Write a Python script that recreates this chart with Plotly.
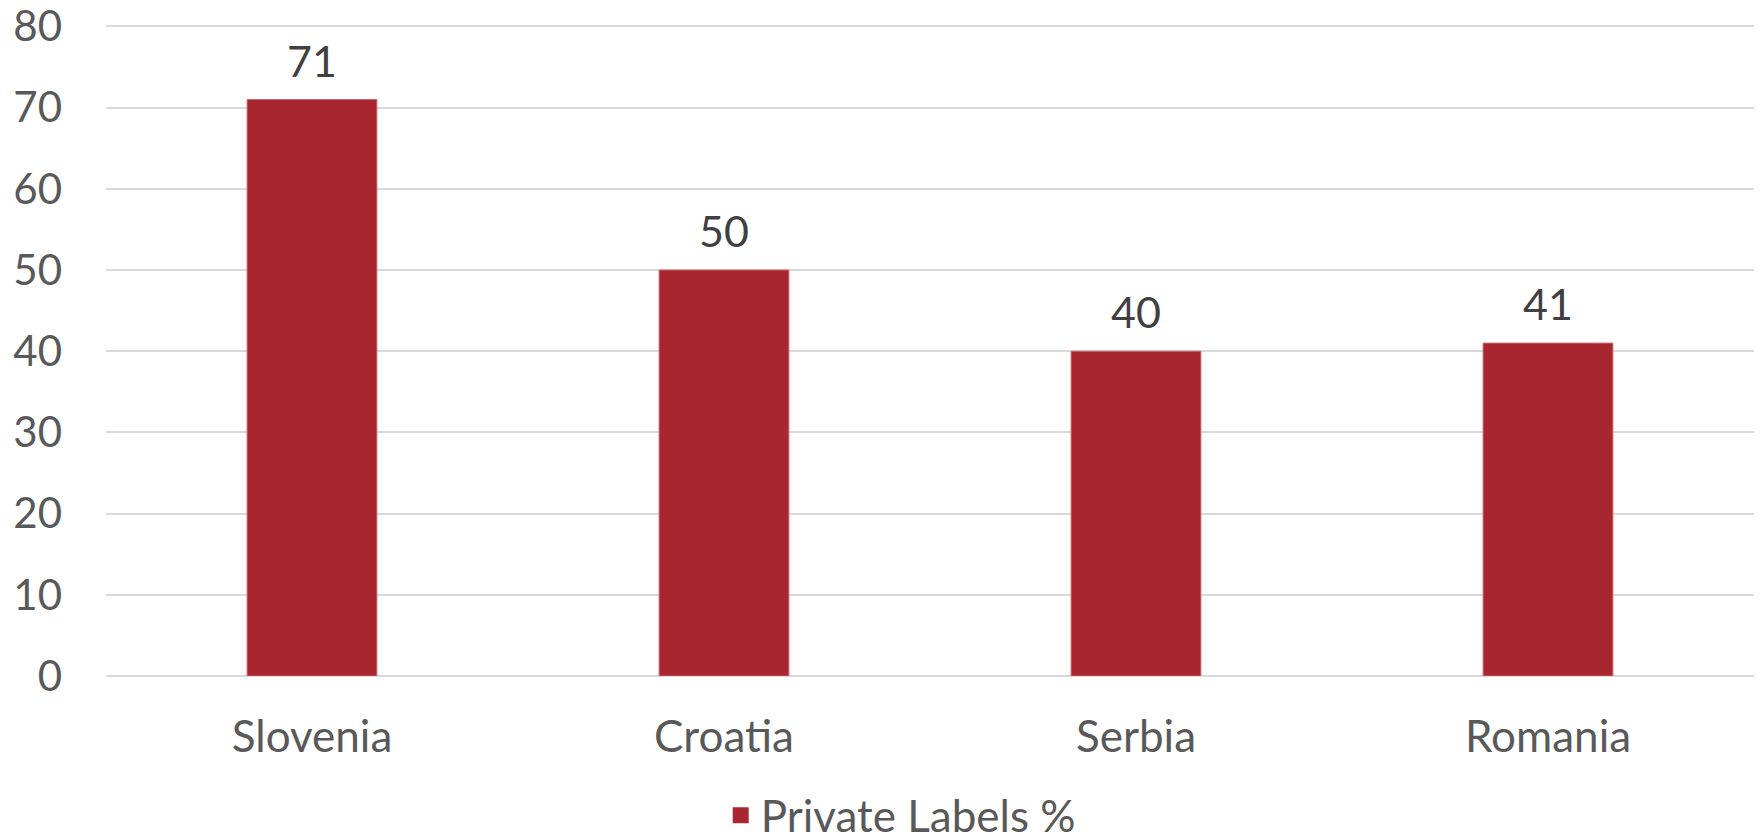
import plotly.graph_objects as go

categories = ["Slovenia", "Croatia", "Serbia", "Romania"]
values = [71, 50, 40, 41]
series_name = "Private Labels %"
y_ticks = [0, 10, 20, 30, 40, 50, 60, 70, 80]

BAR = "#A82630"
FONT = "Lato"

fig = go.Figure()
fig.add_trace(go.Bar(
    x=categories, y=values, name=series_name,
    marker=dict(color=BAR, line=dict(color="#C9656C", width=1)),
    showlegend=False, legendgroup="pl",
))
# legend entry for the series (larger square swatch)
fig.add_trace(go.Scatter(
    x=[None], y=[None], mode="markers", name=series_name, legendgroup="pl",
    marker=dict(symbol="square", size=16, color=BAR), showlegend=True,
    hoverinfo="skip",
))

for c, v in zip(categories, values):
    fig.add_annotation(x=c, y=v, text=str(v), showarrow=False,
                       yanchor="bottom", yshift=12,
                       font=dict(family=FONT, size=43, color="#404040"))

fig.update_layout(
    width=1761, height=838,
    margin=dict(l=106, r=7, t=24, b=162, autoexpand=False),
    paper_bgcolor="white", plot_bgcolor="white",
    bargap=0.685,
    font=dict(family=FONT, color="#595959"),
    legend=dict(orientation="h", x=0.373, xanchor="left", y=-0.214, yanchor="middle",
                font=dict(family=FONT, size=44, color="#595959")),
    xaxis=dict(showgrid=False, showline=False, ticks="", automargin=False,
               tickfont=dict(family=FONT, size=44, color="#595959"),
               ticklabelstandoff=31),
    yaxis=dict(range=[0, 80.3], tickvals=y_ticks, showgrid=True, automargin=False,
               gridcolor="#D9D9D9", gridwidth=1.5, zeroline=True,
               zerolinecolor="#D9D9D9", zerolinewidth=1.5, showline=False,
               ticks="", tickfont=dict(family=FONT, size=42, color="#595959"),
               ticklabelstandoff=43, ticklabeloverflow="allow"),
)

fig.write_html(
    "out.html",
    config={"displayModeBar": False},
    post_script="document.body.style.margin='0';document.body.style.overflow='hidden';",
)
